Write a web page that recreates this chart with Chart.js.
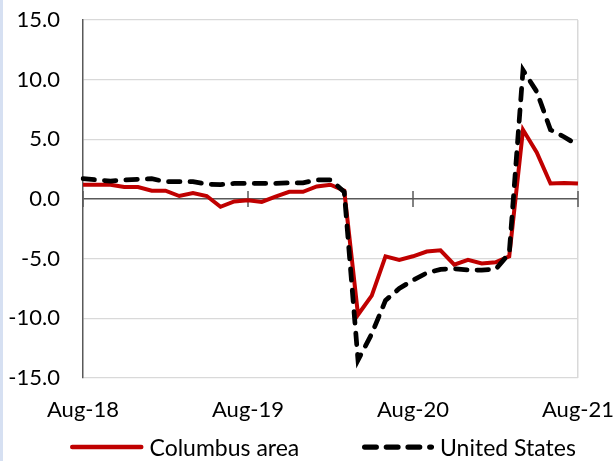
<!DOCTYPE html>
<html>
<head>
<meta charset="utf-8">
<script src="https://cdn.jsdelivr.net/npm/chart.js@4.4.1/dist/chart.umd.min.js"></script>
<style>
body { margin: 0; background: #fff; }
#wrap { position: relative; width: 615px; height: 461px; font-family: Lato, "Noto Sans", sans-serif; }
#strip { position: absolute; left: 0; top: 0; width: 3px; height: 461px; background: #d6e0f2; }
#legend { position: absolute; left: 0; top: 433px; width: 615px; height: 28px; font-size: 23px; line-height: 28px; color: #000; }
.item { position: absolute; top: 0; height: 28px; display: flex; align-items: center; white-space: nowrap; }
.item svg { display: block; margin-right: 6px; }
</style>
</head>
<body>
<div id="wrap">
<canvas id="jobsChart" width="615" height="461"></canvas>
<div id="strip"></div>
<div id="legend"></div>
</div>
<script>
const months = ["Aug","Sep","Oct","Nov","Dec","Jan","Feb","Mar","Apr","May","Jun","Jul"];
const labels = [];
for (let i = 0; i < 37; i++) {
  let yr = 18 + Math.floor((i + 7) / 12);
  labels.push(months[i % 12] + "-" + yr);
}

const columbus = [1.2,1.2,1.2,1.0,1.0,0.7,0.7,0.25,0.5,0.25,
  -0.65,-0.2,-0.1,-0.25,0.2,0.6,0.6,1.05,1.2,0.7,
  -9.7,-8.1,-4.8,-5.1,-4.8,-4.4,-4.3,-5.5,-5.1,-5.4,
  -5.3,-4.8,5.8,3.9,1.3,1.35,1.3];

const unitedStates = [1.7,1.6,1.5,1.6,1.65,1.7,1.45,1.45,1.45,1.25,
  1.2,1.3,1.3,1.3,1.3,1.35,1.35,1.6,1.6,0.6,
  -13.5,-11.3,-8.5,-7.5,-6.8,-6.2,-5.9,-5.85,-5.95,-5.95,
  -5.9,-4.55,10.8,9.0,5.8,5.2,4.5];

const shownTicks = [0, 12, 24, 36];

// small tick marks crossing the zero line
const zeroTicks = {
  id: "zeroTicks",
  beforeDatasetsDraw(chart) {
    const ctx = chart.ctx;
    const x = chart.scales.x;
    const y0 = chart.scales.y.getPixelForValue(0);
    ctx.save();
    ctx.strokeStyle = "#595959";
    ctx.lineWidth = 1.5;
    shownTicks.forEach(i => {
      let px = x.getPixelForValue(i);
      ctx.beginPath();
      ctx.moveTo(px, y0 - 8);
      ctx.lineTo(px, y0 + 8);
      ctx.stroke();
    });
    ctx.restore();
  }
};

Chart.defaults.font.family = "Lato, 'Noto Sans', sans-serif";
Chart.defaults.font.size = 22;
Chart.defaults.color = "#000";

const chart = new Chart(document.getElementById("jobsChart"), {
  type: "line",
  data: {
    labels: labels,
    datasets: [{
      label: "Columbus area",
      data: columbus,
      borderColor: "#c00000",
      backgroundColor: "#c00000",
      borderWidth: 4,
      pointRadius: 0,
      tension: 0,
      order: 1
    }, {
      label: "United States",
      data: unitedStates,
      borderColor: "#000",
      backgroundColor: "#000",
      borderWidth: 4.75,
      borderDash: [11.5, 10],
      borderCapStyle: "round",
      pointRadius: 0,
      tension: 0,
      order: 0
    }]
  },
  options: {
    responsive: false,
    animation: false,
    layout: { padding: { left: 0, right: 0, top: 20, bottom: 34 } },
    plugins: {
      tooltip: { enabled: false },
      legend: { display: false }
    },
    scales: {
      x: {
        grid: {
          drawTicks: false,
          color: c => c.index === 36 ? "#d9d9d9" : "rgba(0,0,0,0)",
          lineWidth: 1.5
        },
        border: { display: false },
        ticks: {
          autoSkip: false,
          maxRotation: 0,
          padding: 19,
          callback: (v, i) => shownTicks.includes(i) ? labels[i] : ""
        },
        afterFit: s => { s.height = 49; s.paddingLeft = 0; s.paddingRight = 37; }
      },
      y: {
        min: -15,
        max: 15,
        grid: {
          drawTicks: false,
          color: c => c.tick.value === 0 ? "#595959" : "#d9d9d9",
          lineWidth: c => c.tick.value === 0 ? 1.5 : 1.2
        },
        border: { color: "#595959", width: 1.5 },
        ticks: {
          stepSize: 5,
          padding: 23,
          callback: v => v.toFixed(1)
        },
        afterFit: s => { s.width = 83; s.paddingTop = 0; s.paddingBottom = 0; }
      }
    }
  },
  plugins: [zeroTicks]
});

// legend built from the datasets, placed like the original
const legendLeft = [70, 362];
const legend = document.getElementById("legend");
chart.data.datasets.forEach((ds, i) => {
  let w = ds.borderWidth + 0.5;
  let len = i === 0 ? 69 : 66.8;
  let dash = ds.borderDash ? `stroke-dasharray="11.7 10"` : "";
  let item = document.createElement("div");
  item.className = "item";
  item.style.left = legendLeft[i] + "px";
  item.innerHTML =
    `<svg width="${len + w}" height="10"><line x1="${w / 2}" y1="5" x2="${len + w / 2}" y2="5" ` +
    `stroke="${ds.borderColor}" stroke-width="${w}" stroke-linecap="round" ${dash}/></svg>` +
    `<span>${ds.label}</span>`;
  legend.appendChild(item);
});
</script>
</body>
</html>
